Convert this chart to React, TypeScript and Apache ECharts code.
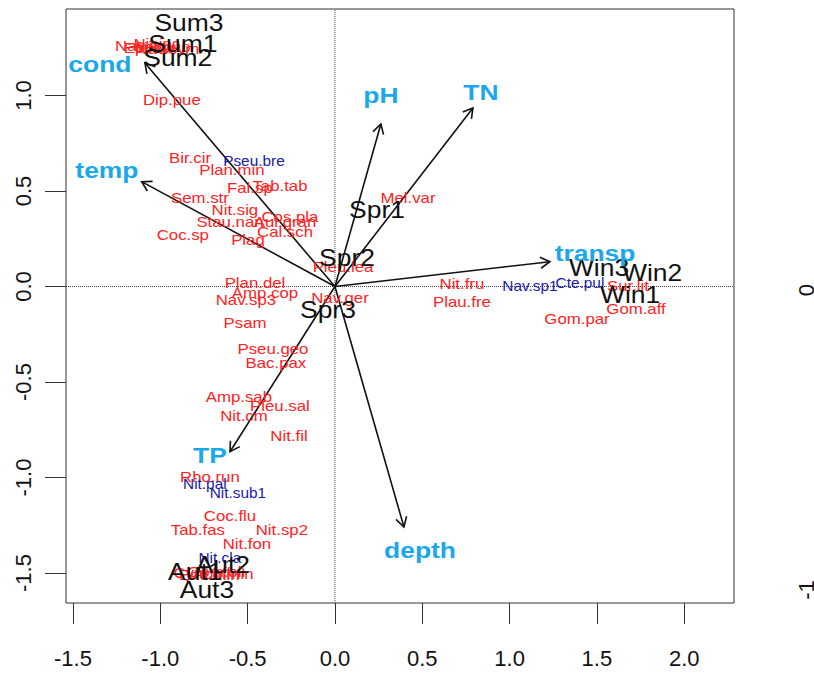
import React, { useEffect, useRef } from "react";
import * as echarts from "echarts";

// Environmental vectors (arrow tips) and their label positions
const envNames = ["cond", "temp", "pH", "TN", "transp", "TP", "depth"];
const envX = [-1.088, -1.107, 0.263, 0.79, 1.231, -0.601, 0.395];
const envY = [1.17, 0.549, 0.851, 0.935, 0.13, -0.865, -1.259];
const envLabelX = [-1.346, -1.306, 0.263, 0.836, 1.489, -0.716, 0.487];
const envLabelY = [1.165, 0.61, 1.003, 1.018, 0.175, -0.882, -1.379];

// Sites
const siteNames = ["Sum3", "Sum1", "Sum2", "Spr1", "Spr2", "Spr3", "Win3", "Win2", "Win1", "Aut1", "Aut2", "Aut3"];
const siteX = [-0.836, -0.871, -0.9, 0.241, 0.069, -0.04, 1.512, 1.816, 1.69, -0.8, -0.642, -0.733];
const siteY = [1.38, 1.27, 1.197, 0.399, 0.149, -0.123, 0.097, 0.071, -0.045, -1.495, -1.458, -1.589];

// Species (red)
const redNames = [
  "Nav.cry", "Epi.sor", "Nit.inc", "Sel.pup", "Nav.sym",
  "Dip.pue", "Bir.cir", "Plan.min", "Tab.tab", "Fal.sp", "Sem.str", "Nit.sig",
  "Stau.nan", "Cos.pla", "Aul.gran", "Cal.sch", "Plag", "Coc.sp", "Mel.var",
  "Pleu.lea", "Plan.del", "Amp.cop", "Nav.sp3", "Nav.ger", "Psam", "Pseu.geo",
  "Bac.pax", "Amp.sab", "Pleu.sal", "Nit.cm", "Nit.fil", "Rho.run", "Coc.flu",
  "Tab.fas", "Nit.sp2", "Nit.fon", "Nit.fru", "Plau.fre", "Sur.lit", "Gom.aff",
  "Gom.par", "Cym.aff", "Enc.min", "Gom.oli", "Ach.min",
];
const redX = [
  -1.1, -1.06, -1.02, -0.99, -0.96,
  -0.934, -0.83, -0.59, -0.315, -0.487, -0.773, -0.573,
  -0.601, -0.258, -0.286, -0.286, -0.498, -0.871, 0.418,
  0.046, -0.458, -0.401, -0.51, 0.029, -0.515, -0.355,
  -0.338, -0.55, -0.315, -0.521, -0.263, -0.716, -0.601,
  -0.785, -0.304, -0.504, 0.727, 0.727, 1.678, 1.724,
  1.386, -0.76, -0.72, -0.68, -0.64,
];
const redY = [
  1.26, 1.25, 1.27, 1.255, 1.245,
  0.976, 0.673, 0.61, 0.526, 0.516, 0.463, 0.401,
  0.338, 0.364, 0.338, 0.285, 0.243, 0.27, 0.463,
  0.102, 0.018, -0.034, -0.071, -0.06, -0.191, -0.327,
  -0.401, -0.579, -0.626, -0.678, -0.783, -0.997, -1.201,
  -1.275, -1.275, -1.348, 0.013, -0.081, 0.003, -0.118,
  -0.17, -1.5, -1.51, -1.495, -1.505,
];

// Species (blue)
const blueNames = ["Pseu.bre", "Nav.sp1", "Cte.pul", "Nit.pal", "Nit.sub1", "Nit.cla"];
const blueX = [-0.464, 1.117, 1.403, -0.745, -0.556, -0.659];
const blueY = [0.657, 0.003, 0.018, -1.034, -1.081, -1.421];

// Axis ticks
const xTicks = [-1.5, -1.0, -0.5, 0.0, 0.5, 1.0, 1.5, 2.0];
const yTicks = [-1.5, -1.0, -0.5, 0.0, 0.5, 1.0];

const X_MIN = -1.54;
const X_MAX = 2.285;
const Y_MIN = -1.657;
const Y_MAX = 1.453;

const FONT = "'Liberation Sans', Arial, sans-serif";

function textSeries(names: string[], xs: number[], ys: number[], color: string, size: number, weight: string, sx: number) {
  return {
    type: "custom",
    data: xs.map((x, i) => [x, ys[i], i]),
    renderItem: (params: any, api: any) => {
      const i = params.dataIndex;
      const p = api.coord([api.value(0), api.value(1)]);
      return {
        type: "text",
        x: p[0],
        y: p[1],
        scaleX: sx,
        style: {
          text: names[i],
          fill: color,
          font: `${weight} ${size}px ${FONT}`,
          align: "center",
          verticalAlign: "middle",
        },
      };
    },
    silent: true,
    z: 5,
  };
}

export default function App() {
  const ref = useRef<HTMLDivElement>(null);
  useEffect(() => {
    if (!ref.current) return;
    const chart = echarts.init(ref.current, null, { renderer: "svg" });
    const option: any = {
      animation: false,
      backgroundColor: "#ffffff",
      grid: {
        left: 66,
        top: 9,
        width: 668,
        height: 594,
        show: true,
        borderColor: "#333",
        borderWidth: 1,
        backgroundColor: "transparent",
      },
      xAxis: {
        type: "value",
        min: X_MIN,
        max: X_MAX,
        axisLine: { show: false, onZero: false },
        splitLine: { show: false },
        axisTick: { show: true, length: 21, inside: false, lineStyle: { color: "#333" }, customValues: xTicks },
        axisLabel: {
          customValues: xTicks,
          margin: 44,
          color: "#111",
          fontSize: 22,
          fontFamily: FONT,
          formatter: (v: number) => v.toFixed(1),
        },
      },
      yAxis: {
        type: "value",
        min: Y_MIN,
        max: Y_MAX,
        axisLine: { show: false, onZero: false },
        splitLine: { show: false },
        axisTick: { show: true, length: 21, inside: false, lineStyle: { color: "#333" }, customValues: yTicks },
        axisLabel: {
          customValues: yTicks,
          rotate: 90,
          margin: 32,
          color: "#111",
          fontSize: 22,
          fontFamily: FONT,
          formatter: (v: number) => v.toFixed(1),
        },
      },
      series: [
        {
          type: "line",
          data: [[0, Y_MIN], [0, Y_MAX]],
          symbol: "none",
          lineStyle: { type: "dotted", color: "#444", width: 1 },
          silent: true,
          z: 1,
        },
        {
          type: "line",
          data: [[X_MIN, 0], [X_MAX, 0]],
          symbol: "none",
          lineStyle: { type: "dotted", color: "#444", width: 1 },
          silent: true,
          z: 1,
        },
        {
          type: "custom",
          data: envX.map((x, i) => [x, envY[i]]),
          renderItem: (params: any, api: any) => {
            const o = api.coord([0, 0]);
            const t = api.coord([api.value(0), api.value(1)]);
            const ang = Math.atan2(t[1] - o[1], t[0] - o[0]);
            const L = 11;
            const a = Math.PI / 6;
            const p1 = [t[0] - L * Math.cos(ang - a), t[1] - L * Math.sin(ang - a)];
            const p2 = [t[0] - L * Math.cos(ang + a), t[1] - L * Math.sin(ang + a)];
            return {
              type: "group",
              children: [
                { type: "line", shape: { x1: o[0], y1: o[1], x2: t[0], y2: t[1] }, style: { stroke: "#111", lineWidth: 1.6 } },
                { type: "polyline", shape: { points: [p1, t, p2] }, style: { stroke: "#111", fill: "none", lineWidth: 1.6 } },
              ],
            };
          },
          silent: true,
          z: 4,
        },
        textSeries(redNames, redX, redY, "#ff2222", 14, "normal", 1.2),
        textSeries(blueNames, blueX, blueY, "#1a1aa8", 14, "normal", 1.1),
        textSeries(siteNames, siteX, siteY, "#111111", 23, "normal", 1.15),
        textSeries(envNames, envLabelX, envLabelY, "#1aa7ec", 22, "bold", 1.2),
      ],
      graphic: [
        {
          type: "text",
          x: 806,
          y: 290,
          rotation: Math.PI / 2,
          style: { text: "0", fill: "#111", font: `22px ${FONT}`, align: "center", verticalAlign: "middle" },
        },
        {
          type: "text",
          x: 806,
          y: 590,
          rotation: Math.PI / 2,
          style: { text: "-1", fill: "#111", font: `22px ${FONT}`, align: "center", verticalAlign: "middle" },
        },
      ],
    };
    chart.setOption(option);
    return () => chart.dispose();
  }, []);
  return (
    <div
      ref={ref}
      style={{ position: "absolute", left: 0, top: 0, width: 814, height: 675, background: "#fff" }}
    />
  );
}
